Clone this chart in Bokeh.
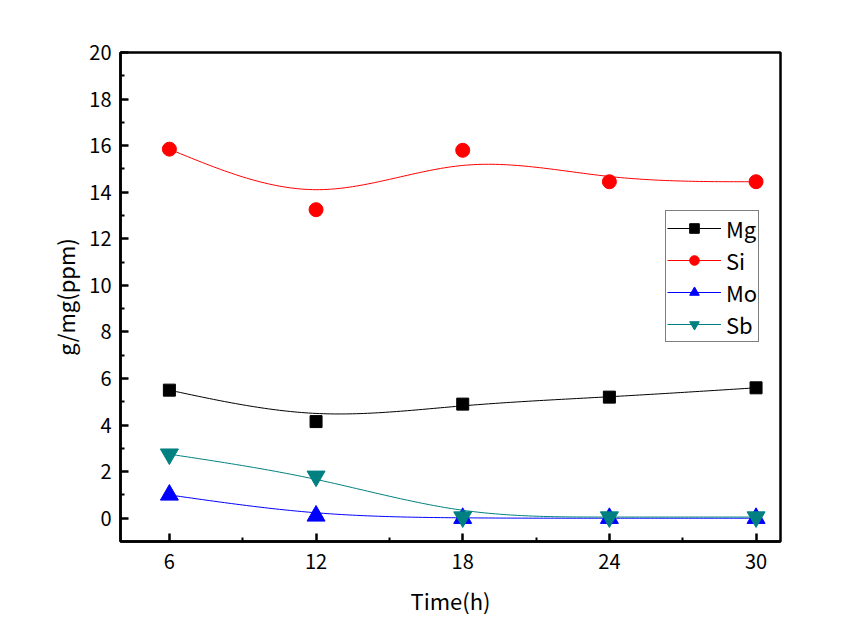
import numpy as np
from bokeh.plotting import figure
from bokeh.models import FixedTicker, Legend, LegendItem, Range1d
from bokeh.embed import file_html
from bokeh.resources import INLINE

time_h = [6, 12, 18, 24, 30]
mg = [5.5, 4.15, 4.9, 5.2, 5.6]
si = [15.85, 13.25, 15.8, 14.45, 14.45]
mo = [1.0, 0.1, 0.0, 0.0, 0.0]
sb = [2.75, 1.8, 0.05, 0.05, 0.05]
x_ticks = [6, 12, 18, 24, 30]
x_minor = [9, 15, 21, 27]
y_ticks = list(range(0, 21, 2))
y_minor = list(range(1, 20, 2))

FONT = "Noto Sans CJK KR"


def bspline(xs, ys, n_per_seg=40):
    """Uniform cubic B-spline with the data as control points
    (phantom end points so the curve starts/ends at the first/last point)."""
    P = np.column_stack([xs, ys]).astype(float)
    P = np.vstack([2 * P[0] - P[1], P, 2 * P[-1] - P[-2]])
    out = []
    for i in range(len(P) - 3):
        p0, p1, p2, p3 = P[i], P[i + 1], P[i + 2], P[i + 3]
        for t in np.linspace(0, 1, n_per_seg, endpoint=(i == len(P) - 4)):
            b0 = (1 - t) ** 3 / 6
            b1 = (3 * t ** 3 - 6 * t ** 2 + 4) / 6
            b2 = (-3 * t ** 3 + 3 * t ** 2 + 3 * t + 1) / 6
            b3 = t ** 3 / 6
            out.append(b0 * p0 + b1 * p1 + b2 * p2 + b3 * p3)
    out = np.array(out)
    return out[:, 0], out[:, 1]


p = figure(
    output_backend="svg", toolbar_location=None,
    frame_width=660, frame_height=489,
    min_border_left=120, min_border_right=69, min_border_top=52, min_border_bottom=85,
    x_range=Range1d(4, 31), y_range=Range1d(-1, 20),
)
p.grid.visible = False
p.outline_line_color = "black"
p.outline_line_width = 2.5
p.background_fill_color = "white"
p.border_fill_color = "white"

for ax in (p.xaxis[0], p.yaxis[0]):
    ax.axis_line_width = 2.5
    ax.major_tick_line_width = 2.5
    ax.minor_tick_line_width = 2
    ax.major_tick_in = 8
    ax.major_tick_out = 0
    ax.minor_tick_in = 4
    ax.minor_tick_out = 0
    ax.major_label_text_font = FONT
    ax.major_label_text_font_size = "20px"
    ax.major_label_text_color = "black"
    ax.axis_label_text_font = FONT
    ax.axis_label_text_font_size = "22px"
    ax.axis_label_text_font_style = "normal"
    ax.axis_label_text_color = "black"

p.xaxis.ticker = FixedTicker(ticks=x_ticks, minor_ticks=x_minor)
p.yaxis.ticker = FixedTicker(ticks=y_ticks, minor_ticks=y_minor)
p.xaxis.major_label_standoff = 12
p.yaxis.major_label_standoff = 9
p.xaxis.axis_label = "Time(h)"
p.yaxis.axis_label = "g/mg(ppm)"
p.xaxis.axis_label_standoff = 12
p.yaxis.axis_label_standoff = 5

series = [
    ("Mg", mg, "black", "square", 12),
    ("Si", si, "#ff0000", "circle", 14),
    ("Mo", mo, "#0000ff", "triangle", 18),
    ("Sb", sb, "#008080", "inverted_triangle", 18),
]

items = []
for name, ys, color, marker, size in series:
    cx, cy = bspline(time_h, ys)
    r_line = p.line(cx, cy, line_color=color, line_width=1)
    r_mark = p.scatter(time_h, ys, marker=marker, size=size, fill_color=color, line_color=color)
    items.append(LegendItem(label=name, renderers=[r_line, r_mark]))

legend = Legend(
    items=items, location=(545, 199),
    label_text_font=FONT, label_text_font_size="22px", label_text_color="black",
    glyph_width=54, glyph_height=24, label_height=24, spacing=0,
    padding=1, margin=0, label_standoff=5,
    border_line_color="black", border_line_width=1.5,
    background_fill_alpha=1.0,
)
p.add_layout(legend, "center")

open("out.html", "w").write(file_html(p, INLINE))
